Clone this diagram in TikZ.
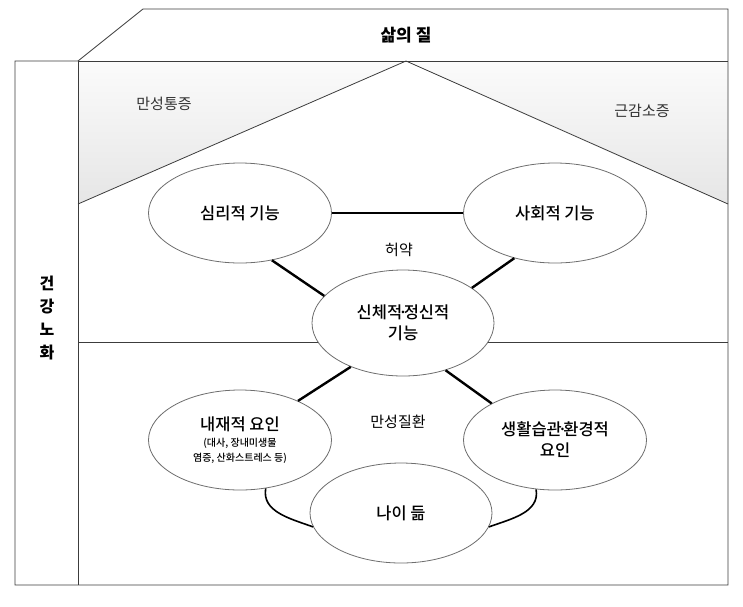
\documentclass[tikz,border=0pt]{standalone}
\usepackage{fontspec}
\setmainfont{Noto Sans CJK KR}
\newfontfamily\krmed{Noto Sans CJK KR Medium}
\usetikzlibrary{shapes.geometric}
\definecolor{edge}{RGB}{60,60,60}
\definecolor{rim}{RGB}{110,110,110}
\definecolor{label}{RGB}{50,50,50}
\newcommand{\mdot}{\kern-4pt·\kern-4pt}

\begin{document}
\begin{tikzpicture}[x=1pt,y=-1pt,
    frame/.style={draw=edge,line width=0.8pt},
    bubble/.style={ellipse,draw=rim,fill=white,line width=0.8pt,minimum width=183pt,minimum height=100pt,inner sep=0pt,align=center,font=\fontsize{16.5}{21}\krmed},
    link/.style={line width=2.4pt,black},
    loop/.style={line width=1.6pt,black},
    tag/.style={font=\fontsize{15}{17}\selectfont,text=label}]
  \useasboundingbox (0,0) rectangle (743,606);
  % shaded corners under the roof
  \shade[top color=gray!3,bottom color=gray!20] (78,61) -- (406,61) -- (78,204) -- cycle (406,61) -- (728,61) -- (728,204) -- cycle;
  % frame
  \draw[frame] (78,61) -- (143,9) -- (728,9) -- (728,585) -- (15,585) -- (15,61) -- cycle;
  \draw[frame] (78,61) -- (728,61);
  \draw[frame] (78,61) -- (78,585);
  \draw[frame] (78,342) -- (728,342);
  \draw[frame] (78,204) -- (406,61) -- (728,204);
  % texts
  \node (qol) at (406,35) {\fontsize{17}{20}\selectfont\bfseries 삶의 질};
  \node[tag] (pain) at (164,104) {만성통증};
  \node[tag] (sarco) at (642,111) {근감소증};
  \node[align=center,font=\fontsize{16}{23}\selectfont\bfseries] (aging) at (47,318) {건\\강\\노\\화};
  \node[tag,text=black] (frail) at (399,250) {허약};
  \node[tag,text=black] (chronic) at (398,422) {만성질환};
  % bubbles
  \node[bubble] (mind) at (240,213) {심리적 기능};
  \node[bubble] (social) at (555,213) {사회적 기능};
  \node[bubble,minimum width=182pt,minimum height=106pt] (body) at (403,323) {신체적\mdot 정신적\\기능};
  \node[bubble] (inner) at (240,440) {내재적 요인\\[-5pt]{\fontsize{10}{15}\selectfont (대사, 장내미생물}\\[-6pt]{\fontsize{10}{15}\selectfont 염증, 산화스트레스 등)}};
  \node[bubble] (habit) at (555,440) {생활습관\mdot 환경적\\요인};
  \node[bubble,minimum width=182pt] (age) at (401,513) {나이 듦};
  % connectors
  \draw[link] (mind) -- (social);
  \draw[link] (mind.-56) -- (body.161);
  \draw[link] (social.-132) -- (body.27);
  \draw[link] (body.-140) -- (inner.34);
  \draw[link] (body.-48) -- (habit.150);
  \draw[loop] (inner.-62) to[out=-100,in=160] (age.-171);
  \draw[loop] (habit.-111) to[out=-80,in=20] (age.-9);
\end{tikzpicture}
\end{document}
